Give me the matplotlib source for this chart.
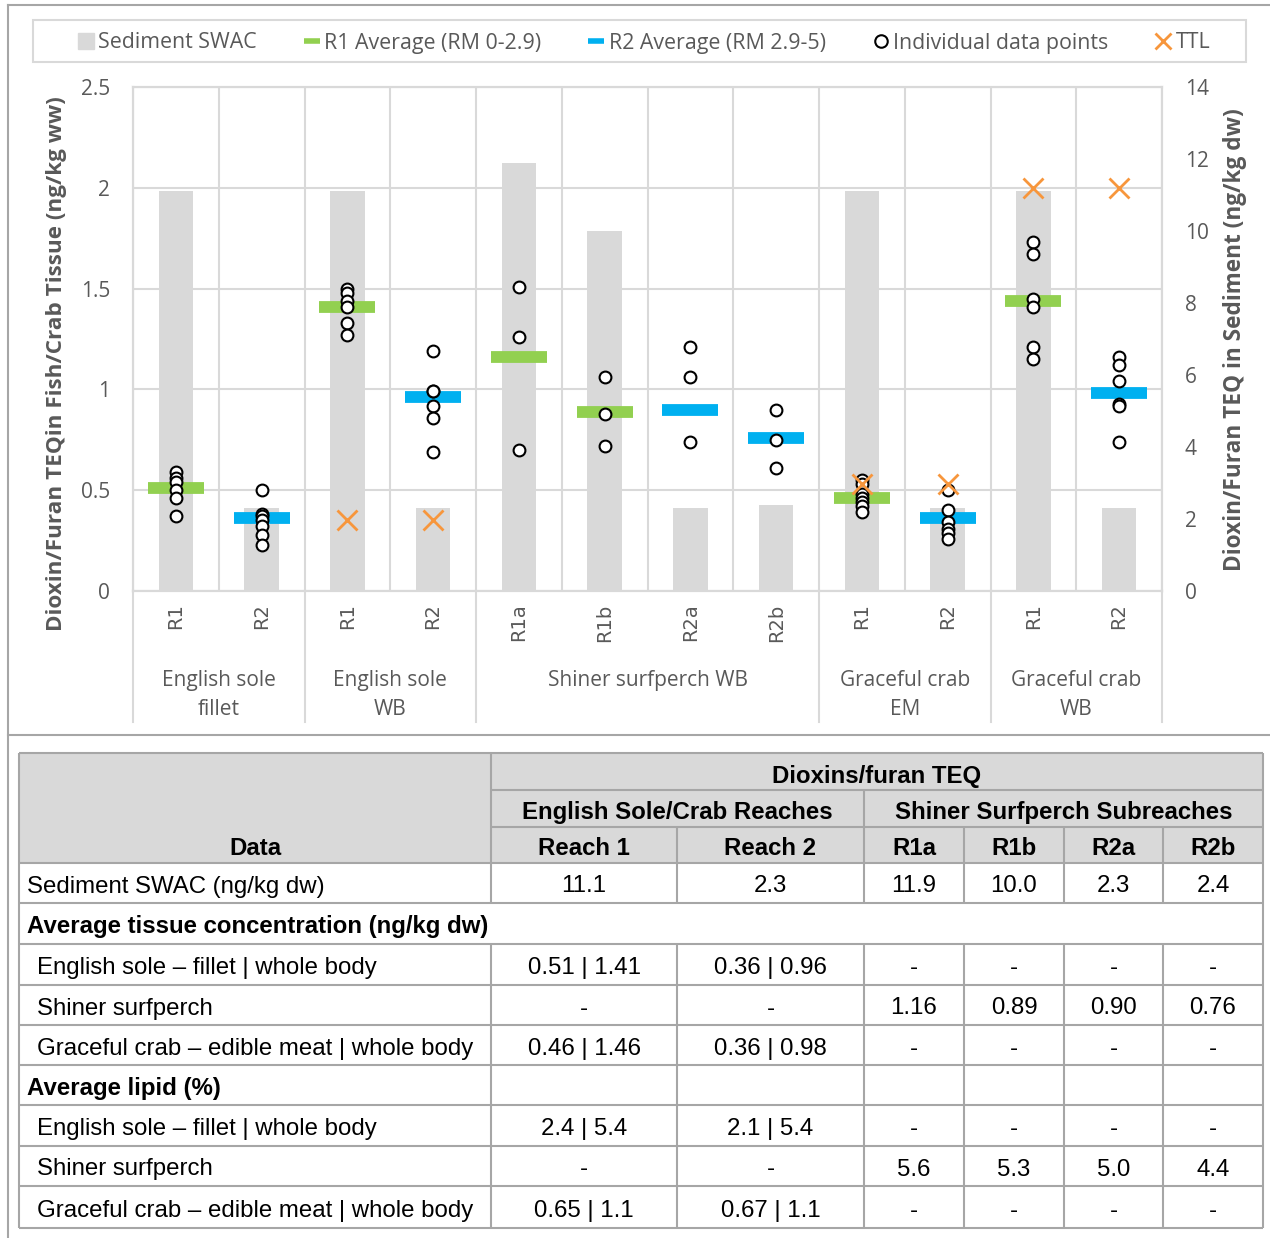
import numpy as np
import matplotlib
matplotlib.use("Agg")
import matplotlib.pyplot as plt
from matplotlib.lines import Line2D
from matplotlib.patches import Rectangle
import matplotlib.transforms as mtransforms

plt.rcParams['font.family'] = ['Open Sans', 'DejaVu Sans']

# ---- chart data ----
categories = ['R1', 'R2', 'R1', 'R2', 'R1a', 'R1b', 'R2a', 'R2b', 'R1', 'R2', 'R1', 'R2']
groups = ['English sole\nfillet', 'English sole\nWB', 'Shiner surfperch WB',
          'Graceful crab\nEM', 'Graceful crab\nWB']
group_sizes = [2, 2, 4, 2, 2]

sediment_swac = [11.1, 2.3, 11.1, 2.3, 11.9, 10.0, 2.3, 2.4, 11.1, 2.3, 11.1, 2.3]
r1_average = [0.51, np.nan, 1.41, np.nan, 1.16, 0.89, np.nan, np.nan, 0.46, np.nan, 1.44, np.nan]
r2_average = [np.nan, 0.36, np.nan, 0.96, np.nan, np.nan, 0.90, 0.76, np.nan, 0.36, np.nan, 0.98]
ttl = [np.nan, np.nan, 0.35, 0.35, np.nan, np.nan, np.nan, np.nan, 0.53, 0.53, 2.0, 2.0]
points = [
    [0.59, 0.56, 0.54, 0.50, 0.46, 0.37],
    [0.50, 0.38, 0.37, 0.35, 0.32, 0.28, 0.23],
    [1.50, 1.48, 1.44, 1.41, 1.33, 1.27],
    [1.19, 0.99, 0.99, 0.92, 0.86, 0.69],
    [1.51, 1.26, 0.70],
    [1.06, 0.88, 0.72],
    [1.21, 1.06, 0.74],
    [0.90, 0.75, 0.61],
    [0.55, 0.53, 0.48, 0.46, 0.44, 0.42, 0.39],
    [0.50, 0.40, 0.34, 0.31, 0.29, 0.26],
    [1.73, 1.67, 1.45, 1.41, 1.21, 1.15],
    [1.16, 1.12, 1.04, 0.93, 0.92, 0.74],
]

# ---- table data ----
table_cols = ['Reach 1', 'Reach 2', 'R1a', 'R1b', 'R2a', 'R2b']
sediment_row = ['11.1', '2.3', '11.9', '10.0', '2.3', '2.4']
tissue_rows = [
    ('English sole \u2013 fillet | whole body', ['0.51 | 1.41', '0.36 | 0.96', '-', '-', '-', '-']),
    ('Shiner surfperch', ['-', '-', '1.16', '0.89', '0.90', '0.76']),
    ('Graceful crab \u2013 edible meat | whole body', ['0.46 | 1.46', '0.36 | 0.98', '-', '-', '-', '-']),
]
lipid_rows = [
    ('English sole \u2013 fillet | whole body', ['2.4 | 5.4', '2.1 | 5.4', '-', '-', '-', '-']),
    ('Shiner surfperch', ['-', '-', '5.6', '5.3', '5.0', '4.4']),
    ('Graceful crab \u2013 edible meat | whole body', ['0.65 | 1.1', '0.67 | 1.1', '-', '-', '-', '-']),
]

GRID = '#d9d9d9'
TXT = '#595959'
GREEN = '#92d050'
BLUE = '#00b0f0'
ORANGE = '#f7963c'
BORDER = '#a6a6a6'

W, H = 1270, 1238
fig = plt.figure(figsize=(W / 100, H / 100), dpi=100)

# background axes in pixel coordinates for frame lines and the table
bg = fig.add_axes([0, 0, 1, 1], zorder=-5)
bg.set_xlim(0, W)
bg.set_ylim(H, 0)
bg.axis('off')
bg.plot([8, 8], [5, H], color=BORDER, lw=1.5)
bg.plot([8, W], [5, 5], color=BORDER, lw=1.5)
bg.plot([8, W], [735, 735], color=BORDER, lw=1.5)
bg.add_patch(Rectangle((33, 20), 1213, 42, fill=False, ec=GRID, lw=1.5))

# ---- chart ----
ax = fig.add_axes([133 / W, 1 - 591 / H, 1029 / W, 504 / H])
ax2 = ax.twinx()
ax.set_zorder(ax2.get_zorder() + 1)
ax.patch.set_visible(False)

x = np.arange(len(categories))
ax2.bar(x, sediment_swac, width=0.4, color=GRID, zorder=1)
ax2.set_ylim(0, 14)
ax2.set_yticks(np.arange(0, 15, 2))
ax2.tick_params(axis='y', length=0, pad=16.5, labelsize=15, labelcolor=TXT)

ax.set_xlim(-0.5, len(categories) - 0.5)
ax.set_ylim(0, 2.5)
ax.set_yticks([0, 0.5, 1, 1.5, 2, 2.5])
ax.set_yticklabels(['0', '0.5', '1', '1.5', '2', '2.5'])
ax.tick_params(axis='y', length=0, pad=16.5, labelsize=15, labelcolor=TXT)
ax.set_xticks(x)
ax.set_xticklabels(categories, rotation=90, fontsize=14, color=TXT, family='DejaVu Sans')
ax.tick_params(axis='x', length=0, pad=9)
ax.set_xticks(np.arange(-0.5, len(categories), 1), minor=True)
ax.tick_params(axis='x', which='minor', length=0)
ax.grid(axis='y', which='major', color=GRID, lw=1.5, zorder=0)
ax.grid(axis='x', which='minor', color=GRID, lw=1.5, zorder=0)
for a in (ax, ax2):
    for s in a.spines.values():
        s.set_color(GRID)
        s.set_linewidth(1.5)

ax.plot(x, r1_average, ls='none', marker='_', ms=40, mew=8.5, color=GREEN, zorder=3)
ax.plot(x, r2_average, ls='none', marker='_', ms=40, mew=8.5, color=BLUE, zorder=3)
for i, vals in enumerate(points):
    ax.plot([i] * len(vals), vals, ls='none', marker='o', ms=8.5, mfc='white',
            mec='black', mew=1.5, zorder=4)
ax.plot(x, ttl, ls='none', marker='x', ms=15, mew=2, color=ORANGE, zorder=5)

# group labels and separators under the axis
trans = mtransforms.blended_transform_factory(ax.transData, ax.transAxes)
edges = np.concatenate([[0], np.cumsum(group_sizes)]) - 0.5
for k, g in enumerate(groups):
    mid = (edges[k] + edges[k + 1]) / 2
    ax.text(mid, -0.1567, g, transform=trans, ha='center', va='top',
            fontsize=15, color=TXT, linespacing=1.5)
for e in edges:
    ax.add_line(Line2D([e, e], [0, -0.26], transform=trans, color=GRID, lw=1.5, clip_on=False))

fig.text(57 / W, 1 - 364 / H, 'Dioxin/Furan TEQin Fish/Crab Tissue (ng/kg ww)', rotation=90,
         ha='center', va='center', fontsize=16.2, fontweight='bold', color=TXT)
fig.text(1235 / W, 1 - 340 / H, 'Dioxin/Furan TEQ in Sediment (ng/kg dw)', rotation=90,
         ha='center', va='center', fontsize=16.3, fontweight='bold', color=TXT)

handles = [
    Line2D([], [], ls='none', marker='s', ms=12, color=GRID),
    Line2D([], [], ls='none', marker='_', ms=11, mew=4, color=GREEN),
    Line2D([], [], ls='none', marker='_', ms=11, mew=4, color=BLUE),
    Line2D([], [], ls='none', marker='o', ms=9, mfc='white', mec='black', mew=1.5),
    Line2D([], [], ls='none', marker='x', ms=11, mew=2, color=ORANGE),
]
labels = ['Sediment SWAC', 'R1 Average (RM 0-2.9)', 'R2 Average (RM 2.9-5)',
          'Individual data points', 'TTL']
leg = fig.legend(handles, labels, loc='center', bbox_to_anchor=(645 / W, 1 - 43 / H), ncol=5,
                 frameon=False, fontsize=15.4, handlelength=0.6, handletextpad=0.3,
                 columnspacing=2.25)
for t in leg.get_texts():
    t.set_color(TXT)

# ---- table ----
col_x = [19, 491, 677, 864, 964, 1064, 1163, 1263]
row_y = [753, 790, 827, 863, 903, 944, 985, 1025, 1065, 1105, 1146, 1186, 1228]
TFONT = dict(family='Liberation Sans', fontsize=17.3, color='black')

bg.add_patch(Rectangle((col_x[0], row_y[0]), col_x[-1] - col_x[0], row_y[3] - row_y[0],
                       fc=GRID, ec='none'))

def hline(y, x0, x1):
    bg.plot([x0, x1], [y, y], color=BORDER, lw=1.5, solid_capstyle='butt')

def vline(xp, y0, y1):
    bg.plot([xp, xp], [y0, y1], color=BORDER, lw=1.5, solid_capstyle='butt')

# outer box and horizontal lines
hline(row_y[0], col_x[0], col_x[-1])
hline(row_y[-1], col_x[0], col_x[-1])
vline(col_x[0], row_y[0], row_y[-1])
vline(col_x[-1], row_y[0], row_y[-1])
hline(row_y[1], col_x[1], col_x[-1])
hline(row_y[2], col_x[1], col_x[-1])
for y in row_y[3:-1]:
    hline(y, col_x[0], col_x[-1])
# vertical lines (tissue section header row has none)
vline(col_x[1], row_y[0], row_y[4])
vline(col_x[1], row_y[5], row_y[-1])
vline(col_x[3], row_y[1], row_y[4])
vline(col_x[3], row_y[5], row_y[-1])
for xp in [col_x[2]] + col_x[4:7]:
    vline(xp, row_y[2], row_y[4])
    vline(xp, row_y[5], row_y[-1])

def cell_center(c):
    return (col_x[c] + col_x[c + 1]) / 2

def baseline(r, off=9.5):
    return (row_y[r] + row_y[r + 1]) / 2 + off

bg.text((col_x[1] + col_x[-1]) / 2, baseline(0, 12), 'Dioxins/furan TEQ', ha='center',
        va='baseline', fontweight='bold', **TFONT)
bg.text((col_x[1] + col_x[3]) / 2, baseline(1, 10), 'English Sole/Crab Reaches', ha='center',
        va='baseline', fontweight='bold', **TFONT)
bg.text((col_x[3] + col_x[-1]) / 2, baseline(1, 10), 'Shiner Surfperch Subreaches', ha='center',
        va='baseline', fontweight='bold', **TFONT)
bg.text(cell_center(0), baseline(2, 10), 'Data', ha='center', va='baseline',
        fontweight='bold', **TFONT)
for c, name in enumerate(table_cols):
    bg.text(cell_center(c + 1), baseline(2, 10), name, ha='center', va='baseline',
            fontweight='bold', **TFONT)

body = [('Sediment SWAC (ng/kg dw)', sediment_row, 'normal', 27),
        ('Average tissue concentration (ng/kg dw)', None, 'bold', 27)]
body += [(lab, vals, 'normal', 37) for lab, vals in tissue_rows]
body += [('Average lipid (%)', None, 'bold', 27)]
body += [(lab, vals, 'normal', 37) for lab, vals in lipid_rows]

for r, (lab, vals, wt, xl) in enumerate(body):
    yb = baseline(r + 3)
    bg.text(xl, yb, lab, ha='left', va='baseline', fontweight=wt, **TFONT)
    if vals is None:
        continue
    for c, v in enumerate(vals):
        bg.text(cell_center(c + 1), yb, v, ha='center', va='baseline', **TFONT)

fig.savefig('out.png', dpi=100)
